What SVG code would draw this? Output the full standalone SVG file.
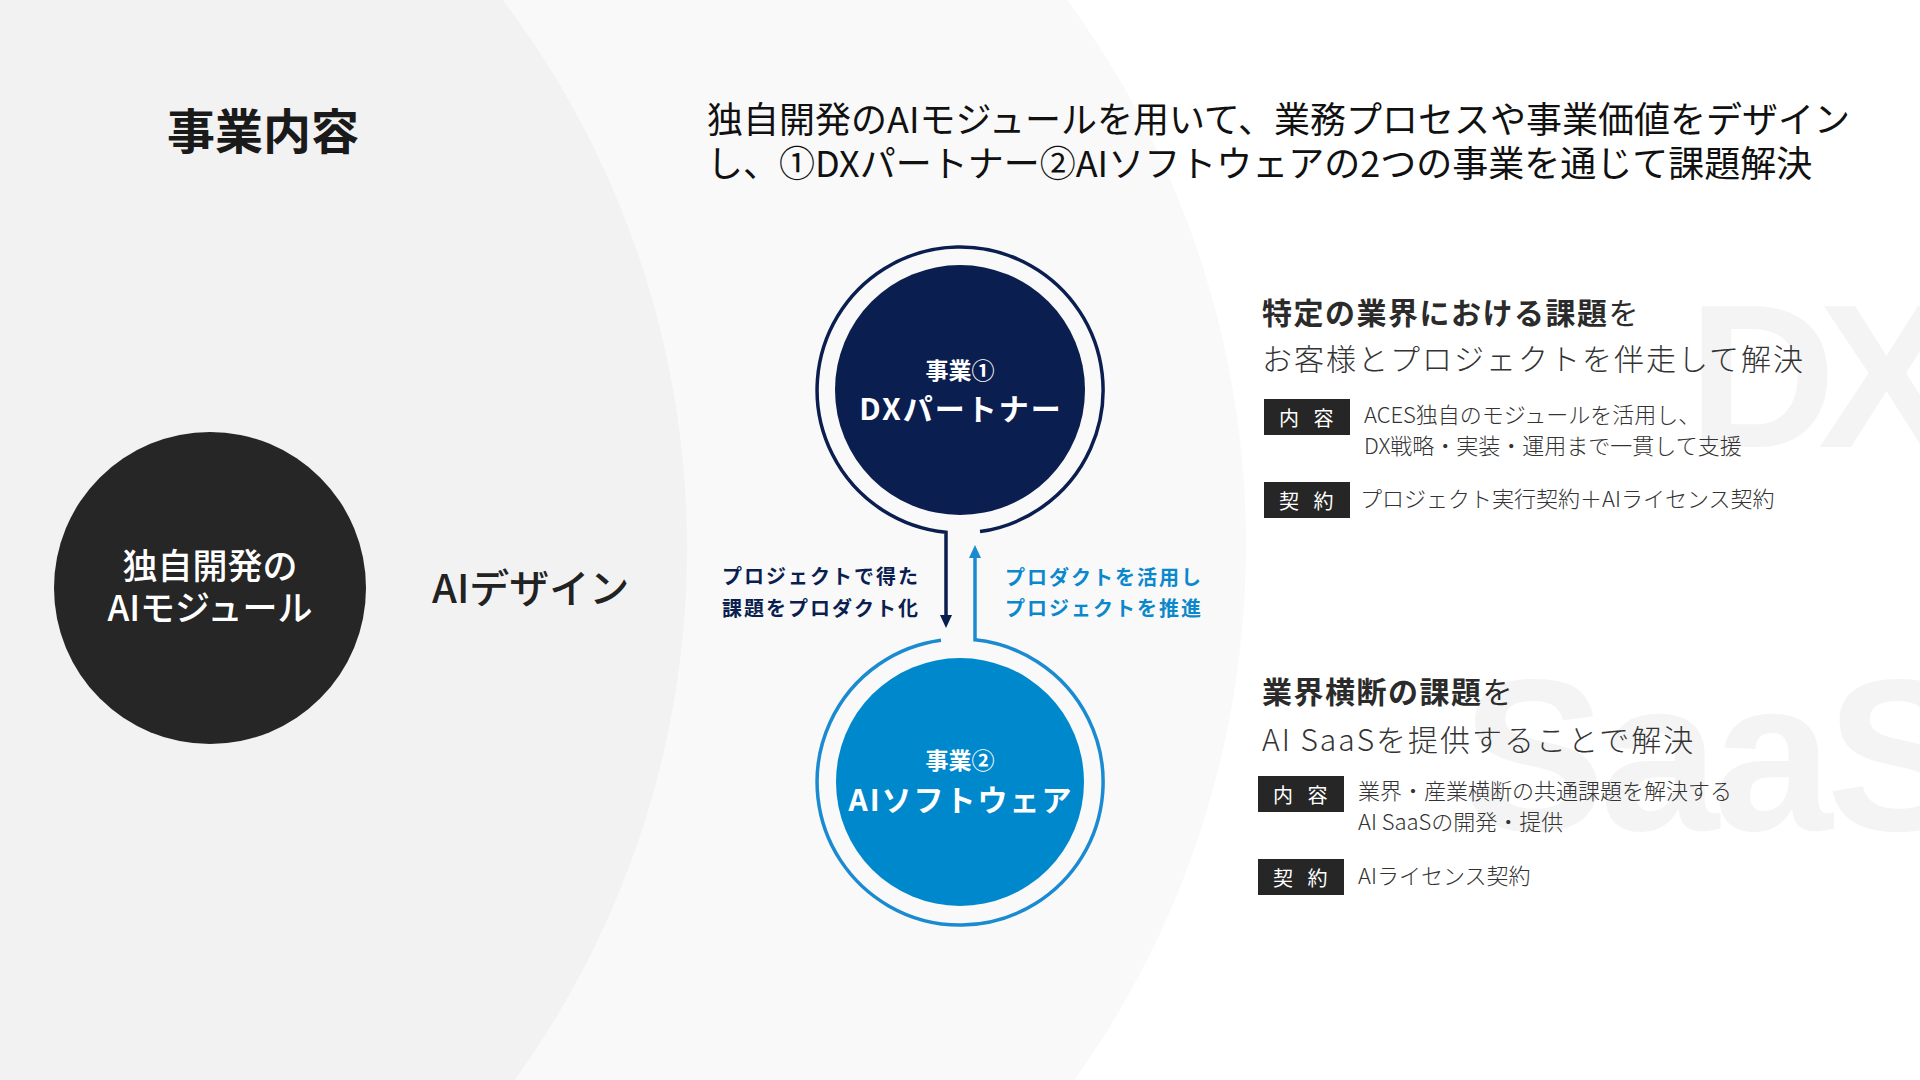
<svg xmlns="http://www.w3.org/2000/svg" width="1920" height="1080" viewBox="0 0 1920 1080">
<defs>
<style>
text{font-family:"Noto Sans CJK JP","Noto Sans",sans-serif;}
.wm{font-family:"Liberation Sans","Noto Sans",sans-serif;font-weight:700;fill:#f4f4f4;}
.title{font-size:48px;font-weight:700;fill:#1a1a1a;}
.lead{font-size:36px;font-weight:400;fill:#111;}
.cLabel{font-size:23px;font-weight:700;fill:#fff;text-anchor:middle;}
.cName{font-size:30px;font-weight:700;fill:#fff;text-anchor:middle;letter-spacing:2px;}
.arrLbl{font-size:20px;font-weight:700;letter-spacing:2px;}
.h{font-size:30px;fill:#2b2b2b;letter-spacing:1.5px;}
.hb{font-weight:700;}
.hr{font-weight:400;}
.h2{font-size:30px;font-weight:300;fill:#333;letter-spacing:2px;}
.badge{fill:#262626;}
.btxt{font-size:20px;font-weight:400;fill:#fff;letter-spacing:5px;}
.body{font-size:22px;font-weight:300;fill:#333;}
.navy{fill:#0b1e50;}
.blue{fill:#0b88cc;}
</style>
</defs>
<rect width="1920" height="1080" fill="#ffffff"/>
<circle cx="326" cy="545" r="920" fill="#f9f9f9"/>
<circle cx="-220" cy="548" r="907" fill="#f2f2f2"/>

<text class="wm" x="1688" y="447" font-size="205" letter-spacing="-18">DX</text>
<text class="wm" x="1462" y="830" font-size="215" letter-spacing="-6">SaaS</text>

<text class="title" x="167" y="149">事業内容</text>
<text class="lead" x="707" y="133">独自開発のAIモジュールを用いて、業務プロセスや事業価値をデザイン</text>
<text class="lead" x="707" y="177">し、①DXパートナー②AIソフトウェアの2つの事業を通じて課題解決</text>

<g id="node-module">
<circle cx="210" cy="588" r="156" fill="#262626"/>
<text x="210" y="579" font-size="35" font-weight="500" fill="#fff" text-anchor="middle">独自開発の</text>
<text x="210" y="621" font-size="35" font-weight="500" fill="#fff" text-anchor="middle">AIモジュール</text>
</g>

<g id="node-aidesign">
<text x="432" y="603" font-size="40" font-weight="500" fill="#222">AIデザイン</text>
</g>

<g id="connectors">
<path d="M 980 531.6 A 143 143 0 1 0 946 532.3 L 946 616" fill="none" stroke="#0b1e50" stroke-width="3.5"/>
<polygon points="940,615 952,615 946,628" fill="#0b1e50"/>
<path d="M 975 557 L 975 639.8 A 143 143 0 1 1 941 640.3" fill="none" stroke="#1a8bd0" stroke-width="3.5"/>
<polygon points="969,558 981,558 975,545" fill="#1a8bd0"/>
<text class="arrLbl navy" x="722" y="584">プロジェクトで得た</text>
<text class="arrLbl navy" x="722" y="616">課題をプロダクト化</text>
<text class="arrLbl blue" x="1005" y="585">プロダクトを活用し</text>
<text class="arrLbl blue" x="1005" y="616">プロジェクトを推進</text>
</g>

<g id="node-dx">
<circle cx="960" cy="390" r="125" fill="#0b1e50"/>
<text class="cLabel" x="960" y="379">事業①</text>
<text class="cName" x="961" y="420">DXパートナー</text>
</g>

<g id="node-ai">
<circle cx="960" cy="782" r="124" fill="#0088cc"/>
<text class="cLabel" x="960" y="769">事業②</text>
<text class="cName" x="961" y="811">AIソフトウェア</text>
</g>

<g id="panel-dx">
<text class="h" x="1262" y="324"><tspan class="hb">特定の業界における課題</tspan><tspan class="hr">を</tspan></text>
<text class="h2" x="1262" y="370">お客様とプロジェクトを伴走して解決</text>
<rect class="badge" x="1264" y="399" width="86" height="36"/>
<text class="btxt" x="1279" y="426">内 容</text>
<text class="body" x="1364" y="423">ACES独自のモジュールを活用し、</text>
<text class="body" x="1364" y="454">DX戦略・実装・運用まで一貫して支援</text>
<rect class="badge" x="1264" y="482" width="86" height="36"/>
<text class="btxt" x="1279" y="509">契 約</text>
<text class="body" x="1360" y="507">プロジェクト実行契約＋AIライセンス契約</text>
</g>

<g id="panel-saas">
<text class="h" x="1262" y="703"><tspan class="hb">業界横断の課題</tspan><tspan class="hr">を</tspan></text>
<text class="h2" x="1262" y="751">AI SaaSを提供することで解決</text>
<rect class="badge" x="1258" y="776" width="86" height="36"/>
<text class="btxt" x="1273" y="803">内 容</text>
<text class="body" x="1358" y="799">業界・産業横断の共通課題を解決する</text>
<text class="body" x="1358" y="830">AI SaaSの開発・提供</text>
<rect class="badge" x="1258" y="859" width="86" height="36"/>
<text class="btxt" x="1273" y="886">契 約</text>
<text class="body" x="1358" y="884">AIライセンス契約</text>
</g>
</svg>
